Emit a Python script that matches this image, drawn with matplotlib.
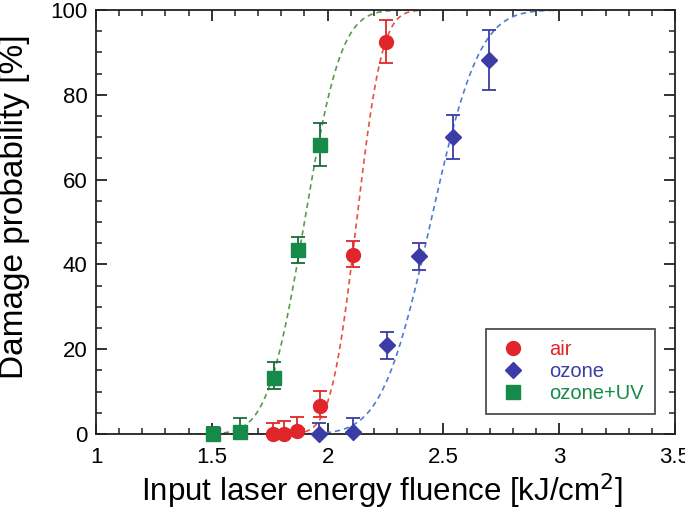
import math
import numpy as np
import matplotlib
matplotlib.use("Agg")
import matplotlib.pyplot as plt
from matplotlib.ticker import MultipleLocator

plt.rcParams['font.family'] = ['Liberation Sans', 'DejaVu Sans']

# --- data ---
air_x = [1.765, 1.813, 1.869, 1.967, 2.108, 2.25]
air_y = [0.0, 0.0, 0.8, 6.7, 42.2, 92.5]
air_lo = [0.0, 0.0, 0.8, 2.8, 2.7, 5.1]
air_hi = [2.7, 3.1, 3.3, 3.5, 3.4, 5.1]

ozone_x = [1.964, 2.108, 2.258, 2.396, 2.543, 2.698]
ozone_y = [0.0, 0.5, 21.0, 42.0, 70.1, 88.2]
ozone_lo = [0.0, 0.5, 3.4, 3.3, 5.2, 7.1]
ozone_hi = [2.5, 3.3, 3.1, 3.1, 5.1, 7.2]

uv_x = [1.504, 1.622, 1.770, 1.874, 1.967]
uv_y = [0.0, 0.5, 13.1, 43.4, 68.2]
uv_lo = [0.0, 0.5, 2.6, 3.1, 5.0]
uv_hi = [1.7, 3.3, 3.8, 3.1, 5.1]

# fitted cumulative-normal curves: (mean, sigma, x_start, x_end)
air_fit = (2.125, 0.087, 1.50, 3.15)
ozone_fit = (2.445, 0.165, 1.75, 3.15)
uv_fit = (1.900, 0.125, 1.35, 3.15)

labels = ["air", "ozone", "ozone+UV"]
x_ticks = [1, 1.5, 2, 2.5, 3, 3.5]
x_ticklabels = ['1', '1.5', '2', '2.5', '3', '3.5']

c_air, c_air_line = '#e0262a', '#e8503c'
c_oz, c_oz_line = '#3c3ca6', '#4a7ed2'
c_uv, c_uv_err, c_uv_line = '#168a48', '#1d6a3a', '#5a9a48'


def cdf_curve(params):
    mu, sig, x0, x1 = params
    xs = np.linspace(x0, x1, 400)
    ys = np.array([50.0 * (1.0 + math.erf((v - mu) / (sig * math.sqrt(2.0)))) for v in xs])
    return xs, ys


fig = plt.figure(figsize=(6.85, 5.11), dpi=100)
ax = fig.add_axes([96 / 685, 77 / 511, 579 / 685, 424 / 511])

dash = (0, (3.2, 2.4))
for params, col in [(uv_fit, c_uv_line), (air_fit, c_air_line), (ozone_fit, c_oz_line)]:
    xs, ys = cdf_curve(params)
    ax.plot(xs, ys, color=col, lw=1.2, ls=dash, zorder=2)

h_air = ax.errorbar(air_x, air_y, yerr=[air_lo, air_hi], fmt='o', ms=10, color=c_air,
                    ecolor=c_air, elinewidth=1.3, capsize=5, capthick=1.3, zorder=4, clip_on=False)
h_oz = ax.errorbar(ozone_x, ozone_y, yerr=[ozone_lo, ozone_hi], fmt='D', ms=8, color=c_oz,
                   ecolor=c_oz, elinewidth=1.3, capsize=5, capthick=1.3, zorder=4, clip_on=False)
h_uv = ax.errorbar(uv_x, uv_y, yerr=[uv_lo, uv_hi], fmt='s', ms=10, color=c_uv,
                   ecolor=c_uv_err, elinewidth=1.3, capsize=5, capthick=1.3, zorder=4, clip_on=False)

ax.set_xlim(1, 3.5)
ax.set_ylim(0, 100)
ax.xaxis.set_minor_locator(MultipleLocator(0.1))
ax.yaxis.set_major_locator(MultipleLocator(20))
ax.yaxis.set_minor_locator(MultipleLocator(5))
ax.set_xticks(x_ticks)
ax.set_xticklabels(x_ticklabels)
ax.tick_params(which='both', direction='in', top=True, right=True, labelsize=16, color='#222222')
ax.tick_params(which='major', length=8, width=1.3)
ax.tick_params(which='minor', length=4.5, width=1.1)
ax.tick_params(axis='x', which='major', pad=9)
ax.tick_params(axis='y', which='major', pad=6)
for s in ax.spines.values():
    s.set_linewidth(1.3)
    s.set_color('#222222')

ax.set_xlabel('Input laser energy fluence [kJ/cm$^2$]', fontsize=22.5)
ax.set_ylabel('Damage probability [%]', fontsize=24)
ax.xaxis.set_label_coords(0.494, -0.136)
ax.xaxis.label.set_va('center')
ax.yaxis.set_label_coords(-0.14, 0.535)
ax.yaxis.label.set_va('center')

leg = ax.legend([h_air[0], h_oz[0], h_uv[0]], labels, loc='lower right',
                bbox_to_anchor=(0.965, 0.047), fontsize=14.5, frameon=True, fancybox=False,
                edgecolor='#222222', borderpad=0.55, handletextpad=1.0, labelspacing=0.15,
                handlelength=1.6, borderaxespad=0)
leg.get_frame().set_linewidth(1.3)
for txt, col in zip(leg.get_texts(), [c_air, c_oz, c_uv]):
    txt.set_color(col)

fig.savefig('out.png', dpi=100)
